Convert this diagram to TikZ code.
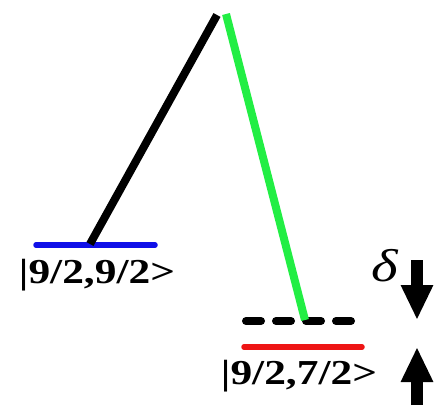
\documentclass[tikz,border=0pt]{standalone}
\usepackage{fontspec}
\setmainfont{Liberation Serif}
\usetikzlibrary{arrows.meta}
\definecolor{lvlb}{HTML}{1010E8}
\definecolor{lvlr}{HTML}{EE1515}
\definecolor{legg}{HTML}{22EE44}
\newcommand\fsK{\fontsize{35}{35}\selectfont\bfseries}
\newcommand\wide[1]{\scalebox{1.24}[1]{#1}}

\begin{document}
\begin{tikzpicture}[x=1pt,y=-1pt,
  level/.style={line width=5.5pt,line cap=round},
  virt/.style={line width=8pt,line cap=round,dash pattern=on 15pt off 15pt},
  leg/.style={line width=8pt},
  ket/.style={anchor=base,font=\fsK,inner sep=0},
  detarrow/.style={line width=12pt,-{Triangle[length=35pt,width=30pt]}}]
\useasboundingbox (0,0) rectangle (436,405);
% levels
\draw[level,lvlb] (36,245) coordinate (bl) -- (155,245) coordinate (br);
\draw[level,lvlr] (244,347) coordinate (rl) -- (362,347) coordinate (rr);
\draw[virt] (246,321) coordinate (dl) -- (356,321) coordinate (dr);
\coordinate (lo) at (90,244);
\coordinate (hi) at (305,320);
\coordinate (apexk) at (217,15);
\coordinate (apexg) at (226,14);
% legs
\draw[leg,black] (lo) -- (apexk);
\draw[leg,legg] (apexg) -- (hi);
% labels
\node[ket] (k1) at (97,283) {\wide{|9/2,9/2>}};
\node[ket] (k2) at (299,384) {\wide{|9/2,7/2>}};
\node[font=\fontsize{46}{46}\selectfont,inner sep=0] (dlt) at (385,266) {\wide{\itshape δ}};
% detuning arrows
\coordinate (da) at (417,260); \coordinate (db) at (417,320);
\coordinate (ua) at (417,405); \coordinate (ub) at (417,347);
\draw[detarrow] (da) -- (db);
\draw[detarrow] (ua) -- (ub);
\end{tikzpicture}
\end{document}
